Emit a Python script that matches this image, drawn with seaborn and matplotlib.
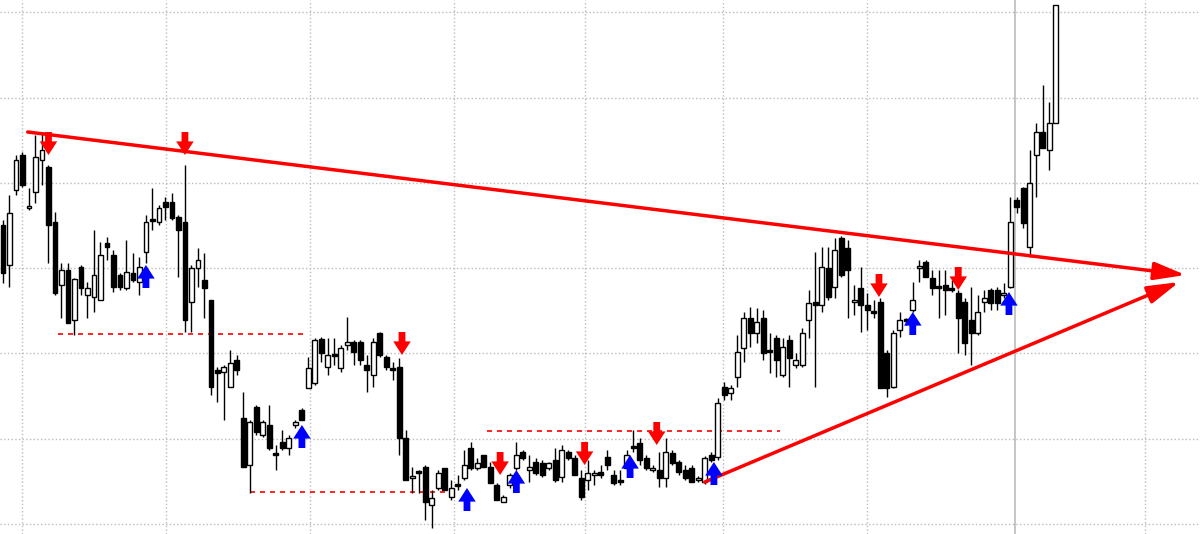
import numpy as np
import matplotlib
matplotlib.use("Agg")
import matplotlib.pyplot as plt
import seaborn as sns

sns.set_style("white")

# OHLC prices
opens = [77.5, 73.5, 81.0, 84.5, 79.2, 80.8, 84.0, 83.3, 77.8, 71.5, 73.0, 68.0, 73.3, 70.5, 70.3, 70.0, 75.7, 74.5, 72.5, 71.2,
         72.7, 71.8, 74.8, 78.1, 77.8, 79.8, 79.8, 78.3, 77.8, 69.8, 73.2, 72.0, 70.0, 63.0, 62.8, 61.3, 64.0, 58.2, 53.5, 59.3,
         56.5, 57.5, 54.7, 55.8, 55.2, 57.5, 59.0, 61.2, 61.7, 66.1, 63.3, 64.6, 63.2, 65.5, 65.8, 65.8, 63.5, 62.5, 66.7, 64.3,
         63.2, 63.3, 56.2, 52.2, 52.8, 53.3, 49.5, 51.2, 53.2, 50.3, 51.5, 52.2, 55.2, 53.2, 54.5, 53.3, 51.5, 49.8, 51.5, 53.2,
         54.8, 53.0, 53.8, 53.7, 53.2, 54.0, 52.3, 54.8, 54.2, 52.2, 52.0, 52.5, 52.8, 54.3, 52.5, 52.0, 53.2, 55.3, 55.7, 54.2,
         53.0, 53.0, 52.2, 54.7, 53.8, 53.0, 53.2, 52.0, 51.8, 54.5, 54.3, 61.3, 60.7, 62.3, 65.2, 68.2, 66.7, 68.2, 65.0, 66.2,
         62.5, 66.0, 63.5, 63.5, 68.0, 69.8, 69.5, 73.2, 71.3, 76.2, 75.2, 69.8, 71.2, 69.5, 68.8, 69.8, 64.7, 61.3, 67.0, 68.0,
         69.0, 73.2, 73.8, 72.2, 71.3, 71.5, 71.2, 70.7, 69.8, 68.0, 66.7, 69.8, 71.0, 71.0, 70.5, 71.3, 80.0, 81.2, 75.3, 84.5,
         86.8, 85.0, 87.7]
highs = [78.0, 80.5, 84.5, 84.8, 81.2, 86.5, 86.7, 83.5, 78.8, 73.7, 73.7, 72.2, 73.5, 71.8, 77.0, 75.8, 76.3, 75.0, 72.7, 76.0,
         74.7, 74.3, 78.5, 81.2, 79.5, 80.3, 80.7, 78.5, 83.5, 73.5, 75.2, 74.7, 70.0, 63.3, 63.5, 65.0, 64.5, 60.8, 58.0, 59.5,
         58.0, 59.5, 55.5, 57.0, 56.5, 58.0, 59.2, 64.3, 66.2, 66.3, 66.2, 66.2, 65.5, 68.3, 66.0, 66.0, 64.5, 66.2, 66.8, 64.5,
         63.8, 64.2, 57.0, 53.3, 53.0, 53.5, 51.0, 53.0, 53.2, 52.0, 52.5, 55.0, 55.8, 54.2, 54.5, 53.8, 51.7, 50.5, 52.7, 55.8,
         55.0, 54.5, 54.2, 54.0, 53.8, 55.2, 55.5, 55.0, 54.5, 53.0, 54.0, 53.0, 53.5, 55.0, 53.0, 53.0, 55.0, 57.0, 56.2, 54.5,
         53.5, 54.8, 56.2, 55.0, 54.0, 53.5, 53.5, 52.4, 54.4, 54.8, 60.2, 61.8, 61.5, 66.5, 68.8, 69.3, 69.2, 69.0, 66.7, 66.5,
         66.2, 66.5, 64.7, 67.2, 71.0, 74.8, 75.3, 75.3, 76.2, 76.4, 76.0, 71.5, 73.3, 70.7, 70.0, 70.2, 65.0, 67.0, 68.8, 68.2,
         71.8, 74.0, 74.0, 73.0, 73.0, 73.0, 72.0, 71.0, 70.2, 71.3, 70.5, 71.0, 71.2, 71.3, 71.7, 80.3, 80.3, 81.3, 85.0, 87.7,
         91.5, 89.8, 99.5]
lows = [71.7, 71.3, 80.5, 81.3, 79.0, 79.7, 81.5, 73.7, 70.5, 68.2, 67.7, 66.5, 70.5, 68.2, 68.8, 70.0, 74.0, 70.8, 71.0, 71.0,
        71.8, 70.5, 73.7, 77.0, 77.5, 78.0, 78.0, 72.3, 66.8, 66.8, 71.3, 68.2, 60.5, 59.8, 58.0, 61.3, 62.5, 53.3, 50.7, 56.5,
        56.3, 55.0, 53.0, 55.0, 54.5, 57.2, 58.0, 61.2, 61.5, 63.8, 62.5, 63.5, 62.8, 65.0, 63.5, 63.5, 60.8, 61.3, 64.3, 63.0,
        62.0, 54.5, 52.0, 50.7, 50.7, 48.0, 47.2, 51.0, 51.0, 50.0, 51.0, 52.0, 53.0, 53.0, 53.3, 51.7, 50.0, 49.8, 51.2, 53.0,
        54.0, 51.8, 52.5, 52.3, 53.0, 51.8, 51.8, 54.0, 52.5, 50.0, 51.0, 51.5, 52.2, 53.0, 51.5, 51.5, 53.0, 54.8, 53.5, 53.0,
        52.8, 51.3, 51.3, 53.5, 52.5, 52.0, 51.8, 51.8, 51.6, 53.8, 54.0, 60.0, 60.0, 61.3, 63.8, 65.3, 65.7, 64.0, 62.7, 62.3,
        62.3, 61.3, 63.2, 63.3, 66.2, 61.3, 68.8, 70.0, 70.2, 72.3, 68.2, 68.5, 66.8, 67.0, 68.2, 61.2, 60.3, 61.2, 66.3, 67.5,
        68.8, 71.8, 72.3, 70.5, 68.2, 68.5, 70.8, 64.7, 64.5, 63.5, 66.5, 68.8, 69.0, 69.0, 70.2, 71.2, 78.7, 77.2, 74.3, 80.3,
        85.2, 83.0, 87.7]
closes = [72.7, 78.7, 84.0, 81.5, 79.4, 84.3, 85.0, 77.5, 70.7, 73.0, 67.7, 72.1, 71.2, 71.2, 72.5, 74.5, 75.3, 71.3, 71.3, 72.8,
          72.0, 73.3, 77.8, 77.9, 79.2, 79.3, 78.2, 77.0, 68.0, 73.2, 74.0, 71.2, 61.3, 62.7, 63.3, 63.7, 63.0, 53.3, 57.8, 56.8,
          57.8, 55.2, 54.5, 55.2, 56.2, 57.8, 58.0, 63.2, 66.0, 64.7, 64.5, 64.4, 65.2, 65.8, 64.8, 64.0, 63.0, 65.8, 64.5, 63.3,
          63.0, 56.2, 52.0, 52.4, 52.7, 49.8, 50.2, 52.7, 51.0, 51.2, 51.4, 53.5, 53.2, 53.7, 53.3, 51.7, 50.0, 50.3, 52.5, 54.5,
          54.2, 53.3, 52.7, 52.5, 53.7, 52.0, 55.0, 54.2, 52.5, 50.3, 52.7, 52.7, 52.5, 53.5, 51.7, 51.8, 54.5, 55.2, 54.0, 53.2,
          53.0, 52.2, 54.8, 53.7, 52.8, 52.2, 51.8, 52.0, 54.2, 54.0, 59.7, 60.5, 61.2, 64.8, 68.2, 66.7, 67.8, 64.7, 64.8, 64.0,
          65.3, 64.2, 64.0, 66.7, 69.7, 69.5, 73.3, 70.3, 75.0, 72.5, 73.0, 69.8, 69.5, 69.0, 68.7, 61.2, 61.2, 66.7, 68.0, 67.9,
          70.0, 73.2, 72.3, 71.2, 71.2, 71.0, 71.0, 68.2, 65.7, 66.7, 68.8, 70.2, 69.7, 69.7, 70.6, 77.8, 79.3, 77.7, 81.7, 86.8,
          85.2, 87.7, 99.5]

# annotations (bar index, price)
sell_signals = [(7, 84.5), (28, 84.5), (61.4, 64.5), (76.5, 52.5), (89.5, 53.5), (100.6, 55.5), (134.8, 70.3), (147, 71.0)]
buy_signals = [(22, 73.5), (46, 57.5), (71.4, 51.2), (79, 53.0), (96.5, 54.5), (109.4, 53.8), (140, 68.8), (154.8, 70.8)]
resistance_line = [(3.8, 86.8), (182.0, 72.5)]
support_line = [(108, 51.8), (181.0, 71.8)]
levels = [(8.5, 46.5, 66.6), (38, 70, 50.8), (74.5, 119.5, 56.9)]
date_ticks = [2.9, 25.1, 47.2, 69.4, 89.5, 110.8, 132.9, 175.7]
month_start = 155.8
price_ticks = [47.6, 56.1, 64.7, 73.2, 81.7, 90.2, 98.8]

n = min(len(opens), len(highs), len(lows), len(closes))
idx = np.arange(n)
o, h, l, c = (np.array(a[:n]) for a in (opens, highs, lows, closes))

fig = plt.figure(figsize=(12, 5.34), dpi=100)
ax = fig.add_axes([0, 0, 1, 1])

ax.vlines(idx, l, h, color="black", lw=1, zorder=3)
up = c >= o
bottoms = np.minimum(o, c)
heights = np.maximum(np.abs(c - o), 0.15)
ax.bar(idx[up], heights[up], bottom=bottoms[up], width=0.75, color="white", edgecolor="black", lw=1, zorder=4)
ax.bar(idx[~up], heights[~up], bottom=bottoms[~up], width=0.75, color="black", edgecolor="black", lw=1, zorder=4)

for x0, x1, y in levels:
    ax.plot([x0, x1], [y, y], color="red", ls=(0, (3, 3)), lw=1.2, zorder=2)

for line in (resistance_line, support_line):
    (x0, y0), (x1, y1) = line
    ax.annotate("", xy=(x1, y1), xytext=(x0, y0),
                arrowprops=dict(arrowstyle="-|>,head_length=1.6,head_width=0.45", color="red", lw=2.5,
                                shrinkA=0, shrinkB=0, mutation_scale=12), zorder=5)

arrow_style = "simple,head_length=0.7,head_width=0.9,tail_width=0.35"
for x, y in sell_signals:
    ax.annotate("", xy=(x, y), xytext=(x, y + 2.3),
                arrowprops=dict(arrowstyle=arrow_style, color="red", lw=0, shrinkA=0, shrinkB=0, mutation_scale=14),
                zorder=6)
for x, y in buy_signals:
    ax.annotate("", xy=(x, y), xytext=(x, y - 2.3),
                arrowprops=dict(arrowstyle=arrow_style, color="blue", lw=0, shrinkA=0, shrinkB=0, mutation_scale=14),
                zorder=6)

ax.set_xlim(-0.46, 184.2)
ax.set_ylim(46.6, 100)
ax.set_xticks(date_ticks)
ax.set_yticks(price_ticks)
ax.grid(True, color="#bbbbbb", ls=":", lw=1)
ax.axvline(month_start, color="#bbbbbb", lw=1.2, zorder=1)
ax.tick_params(length=0, labelbottom=False, labelleft=False)
for s in ax.spines.values():
    s.set_visible(False)

fig.savefig("out.png", dpi=100)
